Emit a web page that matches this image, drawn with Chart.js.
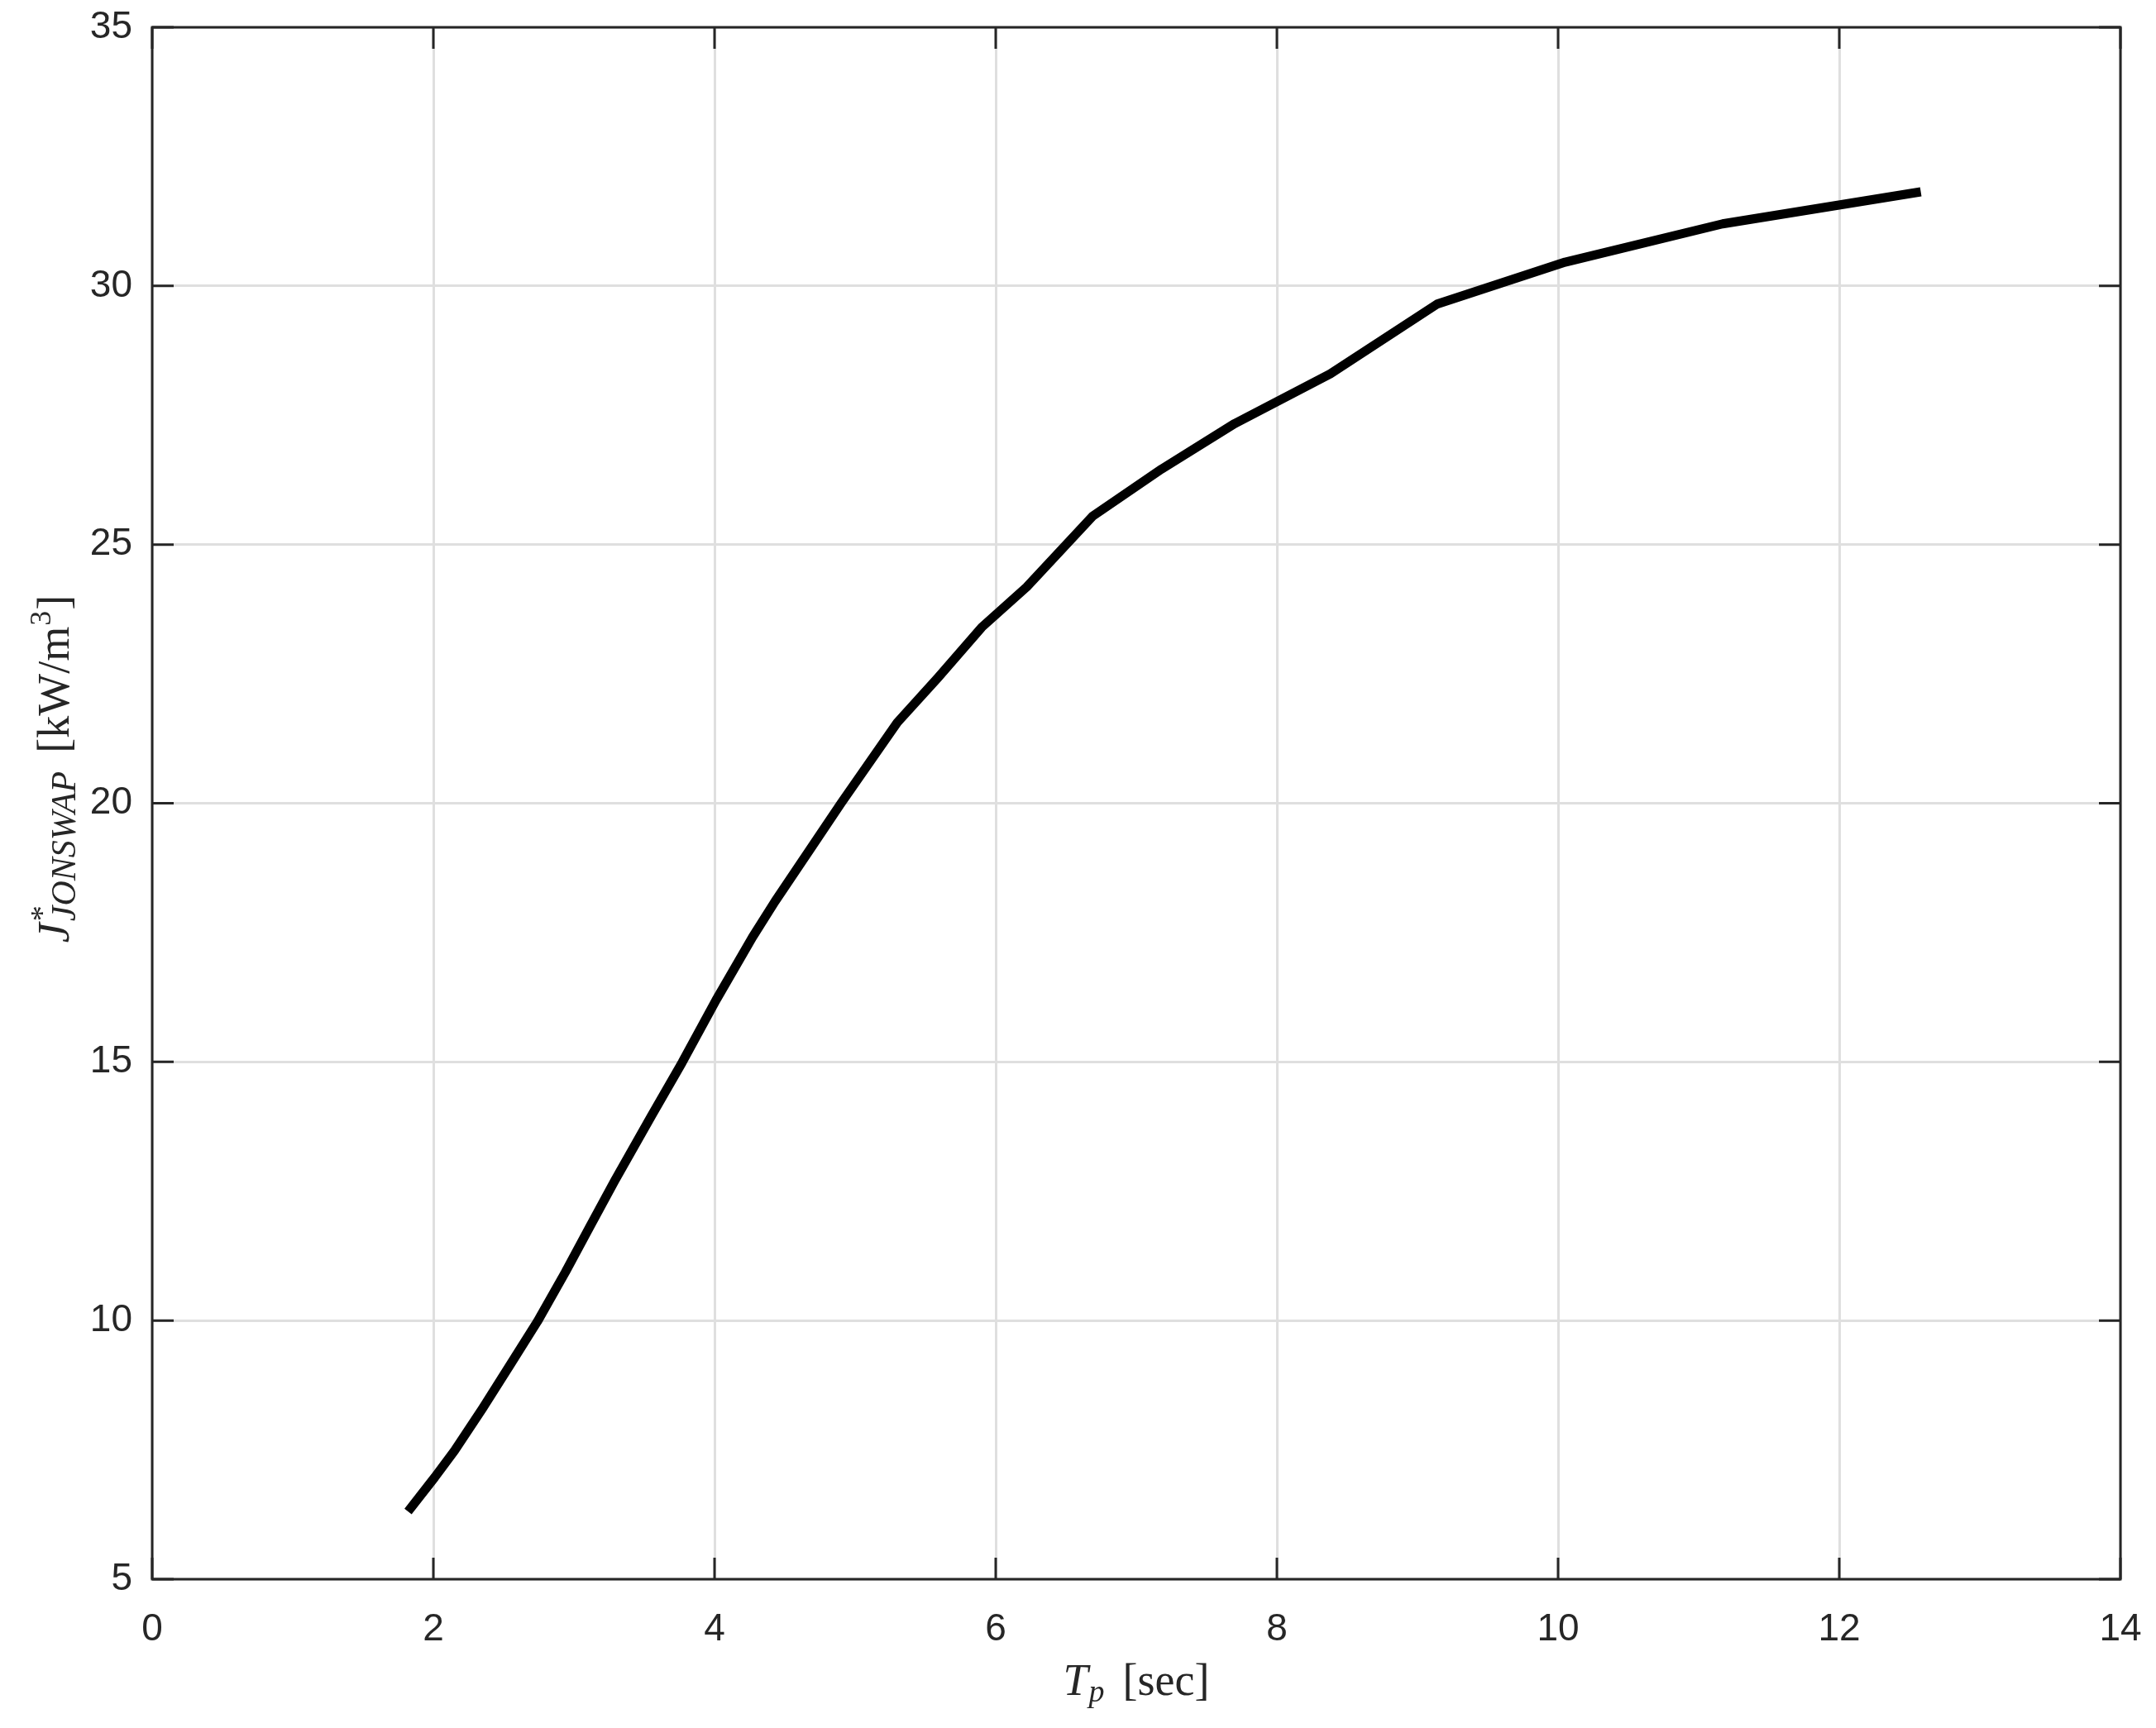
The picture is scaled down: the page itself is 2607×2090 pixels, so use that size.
<!DOCTYPE html>
<html>
<head>
<meta charset="utf-8">
<script src="https://cdn.jsdelivr.net/npm/chart.js@4.4.1/dist/chart.umd.min.js"></script>
<style>
  html, body { margin: 0; padding: 0; background: #fff; }
</style>
</head>
<body>
<canvas id="jonswapChart" width="2607" height="2090"></canvas>
<script>
// peak period Tp [sec] and J* JONSWAP [kW/m^3]
const periods = [1.82, 2.01, 2.15, 2.35, 2.55, 2.74, 2.94, 3.11, 3.29, 3.55, 3.77, 4.01, 4.27,
                 4.43, 4.70, 4.90, 5.30, 5.59, 5.90, 6.22, 6.69, 7.18, 7.70, 8.38,
                 9.14, 10.05, 11.17, 12.58];
const power = [6.31, 6.97, 7.48, 8.30, 9.16, 9.98, 10.94, 11.80, 12.70, 13.95, 14.99, 16.19, 17.41,
               18.10, 19.19, 20.00, 21.56, 22.43, 23.40, 24.18, 25.55, 26.46, 27.34, 28.30,
               29.65, 30.46, 31.20, 31.82];
const xTicks = [0, 2, 4, 6, 8, 10, 12, 14];
const yTicks = [5, 10, 15, 20, 25, 30, 35];

const axisColor = '#262626';
const tickLen = 26;
const serif = '"Liberation Serif", "DejaVu Serif", serif';

// draws a row of pieces; each piece may hold stacked parts (sup + sub)
function drawPieces(ctx, pieces, startX, baseY) {
  let x = startX;
  pieces.forEach(p => {
    let w = 0;
    p.parts.forEach(part => {
      ctx.font = part.font;
      ctx.fillText(part.t, x, baseY + (part.dy || 0));
      w = Math.max(w, ctx.measureText(part.t).width);
    });
    x += w + (p.gap || 0);
  });
}
function piecesWidth(ctx, pieces) {
  let total = 0;
  pieces.forEach(p => {
    let w = 0;
    p.parts.forEach(part => {
      ctx.font = part.font;
      w = Math.max(w, ctx.measureText(part.t).width);
    });
    total += w + (p.gap || 0);
  });
  return total;
}

const xTitle = [
  { parts: [{ t: 'T', font: 'italic 54px ' + serif }], gap: 1 },
  { parts: [{ t: 'p', font: 'italic 38px ' + serif, dy: 8 }], gap: 22 },
  { parts: [{ t: '[sec]', font: '54px ' + serif }] }
];
const yTitle = [
  { parts: [{ t: 'J', font: 'italic 54px ' + serif }], gap: 2 },
  { parts: [{ t: '*', font: '38px ' + serif, dy: -20 },
            { t: 'JONSWAP', font: 'italic 42px ' + serif, dy: 8 }], gap: 22 },
  { parts: [{ t: '[kW/m', font: '54px ' + serif }], gap: 1 },
  { parts: [{ t: '3', font: '36px ' + serif, dy: -22 }], gap: 1 },
  { parts: [{ t: ']', font: '54px ' + serif }] }
];

const boxPlugin = {
  id: 'boxPlugin',
  afterDatasetsDraw(chart) {
    const { ctx, chartArea: a, scales: { x, y } } = chart;
    ctx.save();
    ctx.strokeStyle = axisColor;
    ctx.lineWidth = 3;
    ctx.strokeRect(a.left, a.top, a.right - a.left, a.bottom - a.top);
    ctx.beginPath();
    xTicks.forEach(v => {
      const px = x.getPixelForValue(v);
      ctx.moveTo(px, a.bottom); ctx.lineTo(px, a.bottom - tickLen);
      ctx.moveTo(px, a.top); ctx.lineTo(px, a.top + tickLen);
    });
    yTicks.forEach(v => {
      const py = y.getPixelForValue(v);
      ctx.moveTo(a.left, py); ctx.lineTo(a.left + tickLen, py);
      ctx.moveTo(a.right, py); ctx.lineTo(a.right - tickLen, py);
    });
    ctx.stroke();

    // axis titles
    ctx.fillStyle = axisColor;
    ctx.textBaseline = 'alphabetic';
    ctx.textAlign = 'left';
    const cx = (a.left + a.right) / 2;
    const wx = piecesWidth(ctx, xTitle);
    drawPieces(ctx, xTitle, cx - wx / 2, 2050);

    const wy = piecesWidth(ctx, yTitle);
    ctx.translate(83, 930);
    ctx.rotate(-Math.PI / 2);
    drawPieces(ctx, yTitle, -wy / 2, 0);
    ctx.restore();
  }
};

// keep the plot box where the reference has it, whatever the label overhang
function noPad(s) {
  s.paddingTop = 0; s.paddingBottom = 0; s.paddingLeft = 0; s.paddingRight = 0;
}

new Chart(document.getElementById('jonswapChart'), {
  type: 'line',
  data: {
    datasets: [{
      data: periods.map((p, i) => ({ x: p, y: power[i] })),
      borderColor: '#000',
      borderWidth: 11,
      borderCapStyle: 'butt',
      borderJoinStyle: 'round',
      pointRadius: 0,
      tension: 0,
      fill: false
    }]
  },
  options: {
    responsive: false,
    animation: false,
    devicePixelRatio: 1,
    layout: { padding: { top: 33, right: 43, left: 0, bottom: 0 } },
    plugins: { legend: { display: false }, tooltip: { enabled: false } },
    scales: {
      x: {
        type: 'linear',
        min: 0, max: 14,
        afterBuildTicks: s => { s.ticks = xTicks.map(v => ({ value: v })); },
        afterFit: s => { s.height = 180; noPad(s); },
        grid: { color: '#dfdfdf', lineWidth: 3, drawTicks: false },
        border: { display: false },
        ticks: { color: axisColor, padding: 34, maxRotation: 0,
                 font: { family: '"Liberation Sans", Arial, sans-serif', size: 46 } }
      },
      y: {
        min: 5, max: 35,
        afterBuildTicks: s => { s.ticks = yTicks.map(v => ({ value: v })); },
        afterFit: s => { s.width = 184; noPad(s); },
        grid: { color: '#dfdfdf', lineWidth: 3, drawTicks: false },
        border: { display: false },
        ticks: { color: axisColor, padding: 24,
                 font: { family: '"Liberation Sans", Arial, sans-serif', size: 46 } }
      }
    }
  },
  plugins: [boxPlugin]
});
</script>
</body>
</html>
